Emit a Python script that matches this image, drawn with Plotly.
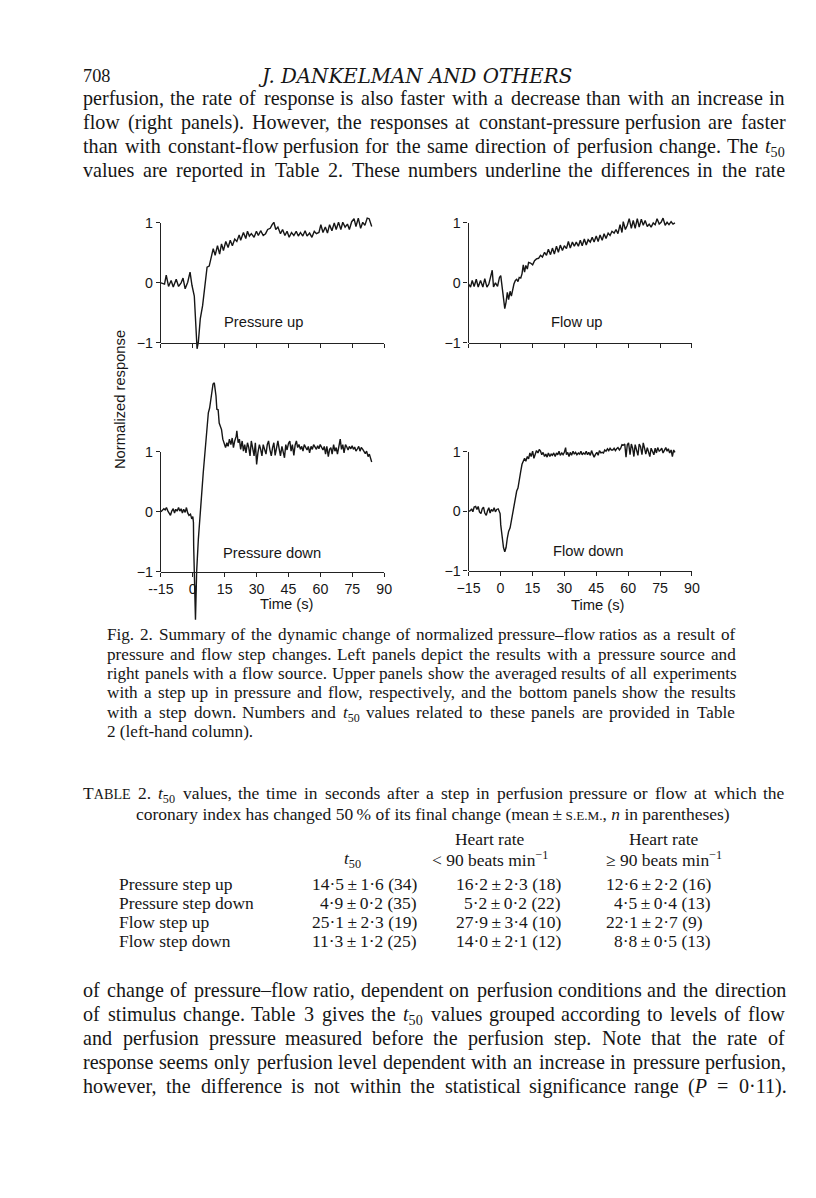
import re
import plotly.graph_objects as go

# ---------------- data ----------------
time_ticks = [-15, 0, 15, 30, 45, 60, 75, 90]
tick_text_left = ["--15", "0", "15", "30", "45", "60", "75", "90"]
tick_text_right = ["\u221215", "0", "15", "30", "45", "60", "75", "90"]
y_ticks = [-1, 0, 1]
y_tick_text = ["\u22121", "0", "1"]

pressure_up = [(-15.0,0.00),(-13.3,-0.02),(-12.5,0.13),(-11.4,-0.06),(-10.2,0.04),(-9.2,-0.07),(-7.8,0.06),(-6.7,-0.06),(-5.5,0.00),(-4.6,0.08),(-3.6,-0.10),(-2.4,0.01),(-1.3,0.18),(-0.4,-0.04),(0.7,-0.22),(2.0,-1.10),(2.6,-0.99),(3.5,-0.60),(4.6,-0.38),(5.4,-0.10),(6.7,0.26),(7.7,0.28),(8.5,0.43),(9.6,0.57),(10.5,0.46),(11.6,0.62),(12.6,0.48),(13.5,0.65),(14.4,0.54),(15.5,0.69),(16.6,0.59),(17.6,0.71),(18.6,0.62),(19.7,0.73),(20.7,0.69),(21.8,0.80),(22.5,0.71),(23.8,0.84),(24.9,0.74),(25.7,0.86),(26.6,0.78),(27.5,0.82),(28.8,0.76),(29.9,0.86),(30.8,0.79),(31.9,0.87),(33.1,0.79),(34.2,0.82),(35.2,0.89),(36.4,0.91),(37.3,0.97),(38.1,1.01),(39.0,0.89),(40.0,0.93),(41.2,0.82),(42.2,0.89),(43.3,0.79),(44.3,0.86),(45.3,0.76),(46.4,0.84),(47.5,0.79),(48.6,0.86),(49.6,0.78),(50.6,0.84),(51.7,0.78),(52.8,0.87),(53.7,0.78),(54.9,0.83),(56.0,0.76),(57.1,0.86),(58.1,0.82),(59.3,0.84),(60.2,0.97),(61.2,0.84),(62.3,0.93),(63.3,0.83),(64.3,0.97),(65.4,0.87),(66.5,1.00),(67.4,0.89),(68.5,1.01),(69.6,0.89),(70.5,1.01),(71.6,0.93),(72.7,0.98),(73.6,0.89),(74.7,1.02),(75.8,1.07),(76.7,0.94),(77.8,1.08),(78.9,0.91),(79.9,1.01),(80.9,0.96),(82.0,1.08),(82.9,1.07),(84.1,0.94)]

flow_up = [(-15.0,-0.02),(-14.1,-0.07),(-13.3,0.04),(-12.4,-0.06),(-11.4,0.06),(-10.5,-0.07),(-9.4,0.04),(-8.3,-0.07),(-7.4,0.07),(-6.4,-0.07),(-5.5,-0.02),(-4.6,0.09),(-3.9,0.21),(-3.3,-0.07),(-2.4,0.00),(-1.4,-0.06),(-0.5,0.09),(0.1,0.12),(0.7,-0.06),(1.4,-0.27),(2.0,-0.43),(2.6,-0.32),(3.2,-0.16),(3.8,-0.28),(4.5,-0.14),(5.1,-0.22),(5.7,-0.10),(6.3,-0.02),(7.0,0.04),(7.6,0.06),(8.2,0.02),(8.8,0.09),(9.5,0.08),(10.1,0.15),(10.7,0.30),(11.3,0.18),(11.9,0.29),(12.6,0.23),(13.2,0.34),(14.1,0.33),(15.1,0.30),(16.0,0.37),(16.9,0.40),(17.9,0.41),(18.8,0.46),(19.7,0.43),(20.7,0.51),(21.6,0.46),(22.5,0.56),(23.5,0.47),(24.4,0.58),(25.3,0.48),(26.3,0.61),(27.2,0.51),(28.1,0.63),(29.1,0.54),(30.0,0.62),(31.0,0.57),(31.9,0.69),(32.8,0.58),(33.8,0.68),(34.7,0.61),(35.6,0.68),(36.6,0.61),(37.5,0.71),(38.4,0.62),(39.4,0.73),(40.3,0.63),(41.2,0.72),(42.2,0.68),(43.1,0.76),(44.0,0.68),(45.0,0.78),(45.9,0.69),(46.8,0.80),(47.8,0.71),(48.7,0.82),(49.6,0.74),(50.6,0.83),(51.5,0.79),(52.4,0.86),(53.4,0.83),(54.3,0.89),(55.2,0.82),(56.2,0.97),(57.1,0.84),(57.7,1.02),(58.7,0.89),(59.6,0.96),(60.5,1.07),(61.5,0.91),(62.4,1.04),(63.3,0.91),(64.3,1.07),(65.2,0.93),(66.2,1.06),(67.1,0.96),(68.0,1.04),(69.0,0.94),(69.9,0.98),(70.8,0.93),(71.8,1.00),(72.7,0.97),(73.6,1.07),(74.6,0.98),(75.5,1.01),(76.4,1.08),(77.4,0.96),(78.3,1.01),(79.2,0.97),(80.2,1.02),(81.1,0.98),(82.0,1.00)]

pressure_down = [(-15.0,0.00),(-14.2,0.03),(-13.6,0.05),(-13.0,0.03),(-12.4,0.07),(-11.7,0.01),(-11.1,-0.02),(-10.5,-0.06),(-9.9,0.01),(-9.2,0.05),(-8.6,-0.02),(-8.0,0.04),(-7.4,0.01),(-6.7,0.07),(-6.1,0.01),(-5.5,0.05),(-4.9,-0.02),(-4.3,0.04),(-3.6,-0.01),(-3.0,0.07),(-2.4,-0.02),(-1.8,-0.06),(-1.1,-0.04),(-0.5,-0.12),(0.0,-0.08),(0.3,-0.18),(0.4,-0.57),(0.7,-1.00),(1.25,-1.80),(1.8,-1.00),(2.6,-0.46),(4.9,0.65),(6.7,1.38),(7.3,1.65),(7.9,1.73),(8.5,1.87),(9.0,2.03),(9.5,2.13),(10.1,2.15),(10.4,2.09),(10.9,1.93),(11.3,1.71),(11.9,1.70),(12.4,1.48),(12.9,1.43),(13.5,1.37),(14.1,1.21),(14.8,1.12),(15.4,1.07),(16.0,1.15),(16.6,1.09),(17.2,1.21),(17.9,1.12),(18.5,1.23),(19.1,1.07),(19.7,1.18),(20.4,1.26),(20.7,1.35),(21.3,1.15),(21.9,1.21),(22.5,1.04),(23.2,1.18),(23.8,1.01),(24.4,1.12),(25.0,0.98),(25.7,1.15),(26.3,1.07),(26.9,0.93),(27.5,1.18),(28.1,1.07),(28.8,0.93),(29.4,1.15),(30.0,0.79),(30.6,0.98),(31.3,1.12),(31.9,1.04),(32.5,0.93),(33.1,1.12),(33.8,1.03),(34.4,0.96),(35.0,1.12),(35.6,1.18),(36.2,1.04),(36.9,0.93),(37.5,1.07),(38.1,1.15),(38.7,0.94),(39.4,1.07),(40.0,1.18),(40.6,1.05),(41.2,0.93),(41.9,1.09),(42.5,1.01),(43.1,0.90),(43.7,1.12),(44.3,1.03),(45.0,1.14),(45.6,1.18),(46.2,1.01),(46.8,1.12),(47.5,0.94),(48.1,1.11),(48.7,1.18),(49.3,1.07),(49.9,1.12),(50.6,1.04),(51.2,1.09),(51.8,1.01),(52.4,1.12),(53.1,1.07),(53.7,1.03),(54.3,1.09),(54.9,0.98),(55.6,1.09),(56.2,1.04),(56.8,1.12),(57.4,1.08),(58.1,1.04),(58.7,1.10),(59.3,1.05),(59.9,1.12),(60.5,1.07),(61.2,1.03),(61.8,1.09),(62.4,0.96),(63.0,1.09),(63.7,0.92),(64.3,1.04),(64.9,1.07),(65.5,0.96),(66.2,1.12),(66.8,1.01),(67.4,1.07),(68.0,0.96),(68.6,1.09),(69.3,1.21),(69.9,1.04),(70.5,1.12),(71.1,0.98),(71.8,1.12),(72.4,1.08),(73.0,1.03),(73.6,1.09),(74.3,1.05),(74.9,1.10),(75.5,1.04),(76.1,1.08),(76.7,1.01),(77.4,1.05),(78.0,1.09),(78.6,1.01),(79.2,1.07),(79.9,1.04),(80.5,1.00),(81.1,0.97),(81.7,1.01),(82.4,0.92),(83.0,0.96),(83.6,0.87),(84.1,0.83)]

flow_down = [(-15.0,0.00),(-14.2,0.01),(-13.6,0.04),(-13.0,-0.01),(-12.4,0.07),(-11.7,0.08),(-11.1,0.03),(-10.5,0.08),(-9.9,-0.01),(-9.2,-0.04),(-8.6,0.04),(-8.0,0.07),(-7.4,-0.03),(-6.7,-0.07),(-6.1,0.01),(-5.5,0.06),(-4.9,-0.03),(-4.3,0.03),(-3.6,0.00),(-3.0,0.06),(-2.4,-0.01),(-1.8,0.03),(-1.1,0.04),(-0.5,-0.01),(-0.2,-0.04),(0.1,-0.23),(0.7,-0.45),(1.4,-0.61),(2.0,-0.68),(2.6,-0.61),(3.2,-0.45),(3.8,-0.34),(4.5,-0.28),(5.1,-0.16),(5.7,0.00),(6.3,0.08),(7.0,0.25),(7.6,0.34),(8.2,0.39),(8.8,0.56),(9.5,0.67),(10.1,0.79),(10.7,0.84),(11.3,0.89),(11.9,0.84),(12.6,0.92),(13.2,0.88),(13.8,0.98),(14.4,0.92),(15.1,1.01),(15.7,0.89),(16.3,0.96),(16.9,1.02),(17.6,0.98),(18.2,1.04),(18.8,1.01),(19.4,0.95),(20.0,0.99),(20.7,0.92),(21.3,0.96),(21.9,0.91),(22.5,0.98),(23.2,0.92),(23.8,0.96),(24.4,0.94),(25.0,0.98),(25.7,0.92),(26.3,0.98),(26.9,0.95),(27.5,1.01),(28.1,0.94),(28.8,0.98),(29.4,0.95),(30.0,0.99),(30.6,1.07),(31.0,0.95),(31.6,0.99),(32.2,0.92),(32.8,0.99),(33.4,0.94),(34.1,1.01),(34.7,0.96),(35.3,0.99),(35.9,0.95),(36.6,0.98),(37.2,0.96),(37.8,1.01),(38.4,0.95),(39.0,0.98),(39.7,0.96),(40.3,1.01),(40.9,0.95),(41.5,0.99),(42.2,0.94),(42.8,1.02),(43.4,0.96),(44.0,0.91),(44.7,0.96),(45.3,0.99),(45.9,0.94),(46.5,1.02),(47.2,0.98),(47.8,0.99),(48.4,0.98),(49.0,1.03),(49.6,1.01),(50.3,1.05),(50.9,1.02),(51.5,1.06),(52.1,1.03),(52.8,1.03),(53.4,1.06),(54.0,1.02),(54.6,1.05),(55.2,1.07),(55.9,1.03),(56.5,1.06),(57.1,1.12),(57.7,1.11),(58.4,1.13),(59.0,0.91),(59.6,1.12),(60.2,1.15),(60.9,0.95),(61.5,1.13),(62.1,1.06),(62.7,0.92),(63.3,1.12),(64.0,1.03),(64.6,0.94),(65.2,1.13),(65.8,1.09),(66.5,0.95),(67.1,1.15),(67.7,1.06),(68.3,0.96),(69.0,1.07),(69.6,1.01),(70.2,0.92),(70.8,1.06),(71.4,1.02),(72.1,0.95),(72.7,1.06),(73.3,0.98),(73.9,1.07),(74.6,1.01),(75.2,1.03),(75.8,1.06),(76.4,0.98),(77.1,1.03),(77.7,1.07),(78.3,1.01),(78.9,1.05),(79.5,0.98),(80.2,1.03),(80.8,0.92),(81.4,1.03),(82.0,0.99)]

panel_labels = ["Pressure up", "Flow up", "Pressure down", "Flow down"]

row_labels = ["Pressure step up", "Pressure step down", "Flow step up", "Flow step down"]
t50_mean = [14.5, 4.9, 25.1, 11.3]
t50_sem = [1.6, 0.2, 2.3, 1.2]
t50_n = [34, 35, 19, 25]
low_mean = [16.2, 5.2, 27.9, 14.0]
low_sem = [2.3, 0.2, 3.4, 2.1]
low_n = [18, 22, 10, 12]
high_mean = [12.6, 4.5, 22.1, 8.8]
high_sem = [2.2, 0.4, 2.7, 0.5]
high_n = [16, 13, 9, 13]

T50 = "<i>t</i><sub>50</sub>"
top_lines = [
    "perfusion, the rate of response is also faster with a decrease than with an increase in",
    "flow (right panels). However, the responses at constant-pressure perfusion are faster",
    "than with constant-flow perfusion for the same direction of perfusion change. The " + T50,
    "values are reported in Table 2. These numbers underline the differences in the rate",
]
caption_lines = [
    "Fig. 2. Summary of the dynamic change of normalized pressure\u2013flow ratios as a result of",
    "pressure and flow step changes. Left panels depict the results with a pressure source and",
    "right panels with a flow source. Upper panels show the averaged results of all experiments",
    "with a step up in pressure and flow, respectively, and the bottom panels show the results",
    "with a step down. Numbers and " + T50 + " values related to these panels are provided in Table",
    "2 (left-hand column).",
]
bottom_lines = [
    "of change of pressure\u2013flow ratio, dependent on perfusion conditions and the direction",
    "of stimulus change. Table 3 gives the " + T50 + " values grouped according to levels of flow",
    "and perfusion pressure measured before the perfusion step. Note that the rate of",
    "response seems only perfusion level dependent with an increase in pressure perfusion,",
    "however, the difference is not within the statistical significance range (<i>P</i> = 0\u00b711).",
]

# ---------------- layout helpers ----------------
# figure sits inside the page body (8 px margin); a measured affine correction
# maps reference-page pixels to the figure's own pixels
OFF = 8
W, H = 816 - 2 * OFF, 1198 - 2 * OFF
SX, OX = 0.981, 9.2
SY, OY = 0.987, 5.1
FS = 1.0 / 0.985          # font-size compensation for the same correction
SERIF = "Liberation Serif"
SANS = "Liberation Sans"
INK = "#161616"

# Times-compatible advance widths (1/1000 em) used to justify text lines
_TW = {" ": 250, ",": 250, ".": 250, "-": 333, "(": 333, ")": 333, ":": 278, ";": 278,
       "%": 833, "<": 564, "=": 564, "\u00b1": 564, "\u2013": 500, "\u00b7": 250,
       "\u2009": 200, "\u2265": 549,
       "A": 722, "B": 667, "C": 667, "D": 722, "E": 611, "F": 556, "G": 722, "H": 722,
       "I": 333, "J": 389, "K": 722, "L": 611, "M": 889, "N": 722, "O": 722, "P": 611,
       "Q": 722, "R": 667, "S": 556, "T": 611, "U": 722, "V": 722, "W": 944, "X": 722,
       "Y": 722, "Z": 611,
       "a": 444, "b": 500, "c": 444, "d": 500, "e": 444, "f": 333, "g": 500, "h": 500,
       "i": 278, "j": 278, "k": 500, "l": 278, "m": 778, "n": 500, "o": 500, "p": 500,
       "q": 500, "r": 333, "s": 389, "t": 278, "u": 500, "v": 500, "w": 722, "x": 500,
       "y": 500, "z": 444}


def text_w(s, size):
    total, stack = 0.0, [1.0]
    for tok in re.findall(r"<[^>]+>|&[a-z]+;|.", s):
        if tok.startswith("<"):
            if tok in ("<sub>", "<sup>"):
                stack.append(stack[-1] * 0.7)
            elif tok in ("</sub>", "</sup>", "</span>"):
                stack.pop()
            elif tok.startswith("<span"):
                m = re.search(r"font-size:([\d.]+)px", tok)
                stack.append(float(m.group(1)) / size if m else stack[-1])
            continue
        if tok == "&lt;":
            tok = "<"
        total += _TW.get(tok, 500) * stack[-1] * size / 1000.0
    return total


def px_x(p):
    return (p - OX) / SX - OFF


def px_y(p):
    return (p - OY) / SY - OFF


def fx(p):
    return px_x(p) / W


def fy(p):
    return 1 - px_y(p) / H


def ann(text, x, y, size, family=SERIF, xanchor="left", **kw):
    return dict(text=text, x=fx(x), y=fy(y), xref="paper", yref="paper",
                xanchor=xanchor, yanchor="middle", showarrow=False,
                font=dict(family=family, size=size * FS, color=INK), **kw)


def tann(text, x, yc, size, family=SERIF, xanchor="left"):
    # top-anchored text so that subscripts do not move the baseline; yc = x-height centre
    return dict(text=text, x=fx(x), y=fy(yc - 0.66 * size - 1), xref="paper", yref="paper",
                xanchor=xanchor, yanchor="top", showarrow=False, borderpad=0,
                font=dict(family=family, size=size * FS, color=INK))


def set_line(line, left, right, yc, size, justify=True):
    if not justify:
        return [tann(line, left, yc, size)]
    words = re.split(r" (?![^<]*>)", line)
    fsz = size * FS
    widths = [text_w(w, fsz) for w in words]
    span = px_x(right) - px_x(left)
    gap = (span - sum(widths)) / (len(words) - 1)
    out, x = [], px_x(left)
    for w, wd in zip(words, widths):
        out.append(dict(text=w, x=x / W, y=fy(yc - 0.66 * size - 1), xref="paper",
                        yref="paper", xanchor="left", yanchor="top", showarrow=False,
                        borderpad=0, font=dict(family=SERIF, size=fsz, color=INK)))
        x += wd + gap
    return out


def fmt(m, s, n):
    d = lambda v: f"{v:.1f}".replace(".", "\u00b7")
    return f"{d(m)}\u2009\u00b1\u2009{d(s)} ({n})"


# panel geometry in reference-page pixels
panels = [
    dict(data=pressure_up, x0=158, x1=383, p1=220, pm1=340, top=195, bot=352, labels=None,
         lab=(261, 319)),
    dict(data=flow_up, x0=468, x1=693, p1=220, pm1=340, top=195, bot=350, labels=None,
         lab=(577, 319)),
    dict(data=pressure_down, x0=158, x1=383, p1=449, pm1=569, top=372, bot=625,
         labels=tick_text_left, lab=(270, 550)),
    dict(data=flow_down, x0=468, x1=693, p1=449, pm1=568, top=420, bot=575,
         labels=tick_text_right, lab=(588, 548)),
]

fig = go.Figure()
layout = dict(width=W, height=H, autosize=False, margin=dict(l=0, r=0, t=0, b=0),
              paper_bgcolor="white", plot_bgcolor="rgba(0,0,0,0)", showlegend=False)
annotations = []

for i, p in enumerate(panels):
    k = i + 1
    xs = "" if k == 1 else str(k)
    yline = str(k + 4)
    ppu = (p["pm1"] - p["p1"]) / 2.0
    rmin = -1 - (p["bot"] - p["pm1"]) / ppu
    rmax = 1 + (p["p1"] - p["top"]) / ppu
    t = [a for a, b in p["data"]]
    v = [b for a, b in p["data"]]
    fig.add_trace(go.Scatter(x=t, y=v, mode="lines", xaxis="x" + xs, yaxis="y" + xs,
                             line=dict(color=INK, width=1.4), hoverinfo="skip"))
    # invisible companion trace so the axis-line subplot exists
    fig.add_trace(go.Scatter(x=[-15], y=[0], mode="markers", xaxis="x" + xs, yaxis="y" + yline,
                             marker=dict(opacity=0), hoverinfo="skip"))
    xa = dict(domain=[fx(p["x0"]), fx(p["x1"])], range=[-15, 90], anchor="free",
              position=fy(p["pm1"]), showline=True, linecolor="#222", linewidth=1.3,
              ticks="outside", ticklen=4, tickwidth=1.2, tickcolor="#222",
              tickvals=time_ticks, showgrid=False, zeroline=False, fixedrange=True)
    if p["labels"]:
        xa.update(ticktext=p["labels"], showticklabels=True,
                  tickfont=dict(family=SANS, size=14 * FS, color=INK))
    else:
        xa.update(showticklabels=False)
    layout["xaxis" + xs] = xa
    layout["yaxis" + xs] = dict(domain=[fy(p["bot"]), fy(p["top"])], range=[rmin, rmax],
                                anchor="x" + xs, visible=False, fixedrange=True)
    layout["yaxis" + yline] = dict(domain=[fy(p["pm1"]), fy(p["p1"])], range=[-1, 1],
                                   anchor="x" + xs, showline=True, linecolor="#222",
                                   linewidth=1.3, ticks="outside", ticklen=4, tickwidth=1.2,
                                   tickcolor="#222", tickvals=y_ticks, ticktext=y_tick_text,
                                   tickfont=dict(family=SANS, size=14 * FS, color=INK),
                                   showgrid=False, zeroline=False, fixedrange=True)
    annotations.append(ann(panel_labels[i], p["lab"][0], p["lab"][1], 14.5, SANS, "center"))

annotations.append(ann("Time (s)", 285, 601, 14.5, SANS, "center"))
annotations.append(ann("Time (s)", 598, 602, 14.5, SANS, "center"))
annotations.append(ann("Normalized response", 117, 397, 14.5, SANS, "center", textangle=-90))

# ---------------- page text ----------------
BODY = 19.8
CAP = 16.9
TAB = 17.2
L_BODY, R_BODY = 79, 785
L_CAP, R_CAP = 103, 735
annotations.append(tann("708", L_BODY, 75, 18))
annotations.append(tann("<i>J. DANKELMAN AND OTHERS</i>", 414, 75, 19.5, "DejaVu Serif",
                        xanchor="center"))
for j, line in enumerate(top_lines):
    annotations += set_line(line, L_BODY, R_BODY, 97 + 24 * j, BODY)
cap_y = [633, 653, 673, 692, 712, 731]
for j, (line, y) in enumerate(zip(caption_lines, cap_y)):
    annotations += set_line(line, L_CAP, R_CAP, y, CAP, justify=(j < 5))

small = lambda s, sz=14: f'<span style="font-size:{sz * FS:.1f}px">{s}</span>'
annotations += set_line("T" + small("ABLE") + " 2. " + T50 +
                        " values, the time in seconds after a step in perfusion pressure or flow at which the",
                        L_BODY, R_BODY, 792, TAB)
annotations.append(tann("coronary index has changed 50\u2009% of its final change (mean\u2009\u00b1\u2009"
                        + small("S.E.M.", 13) + ", <i>n</i> in parentheses)", 432, 813, TAB,
                        xanchor="center"))
annotations.append(tann("Heart rate", 490, 838, TAB, xanchor="center"))
annotations.append(tann("Heart rate", 665, 838, TAB, xanchor="center"))
annotations.append(tann("&lt; 90 beats min<sup>\u22121</sup>", 490, 857, TAB, xanchor="center"))
annotations.append(tann("\u2265 90 beats min<sup>\u22121</sup>", 665, 857, TAB, xanchor="center"))
annotations.append(tann(T50, 351, 857, TAB, xanchor="center"))
row_y = [883, 902, 921, 940]
for r in range(4):
    annotations.append(tann(row_labels[r], 115, row_y[r], TAB))
    annotations.append(tann(fmt(t50_mean[r], t50_sem[r], t50_n[r]), 417, row_y[r], TAB,
                            xanchor="right"))
    annotations.append(tann(fmt(low_mean[r], low_sem[r], low_n[r]), 562, row_y[r], TAB,
                            xanchor="right"))
    s3 = fmt(high_mean[r], high_sem[r], high_n[r])
    if high_n[r] < 10:
        s3 += "\u2007"
    annotations.append(tann(s3, 713, row_y[r], TAB, xanchor="right"))

for j, line in enumerate(bottom_lines):
    annotations += set_line(line, L_BODY, R_BODY, 990 + 24 * j, BODY)

layout["annotations"] = annotations
fig.update_layout(**layout)
fig.write_html("out.html")
